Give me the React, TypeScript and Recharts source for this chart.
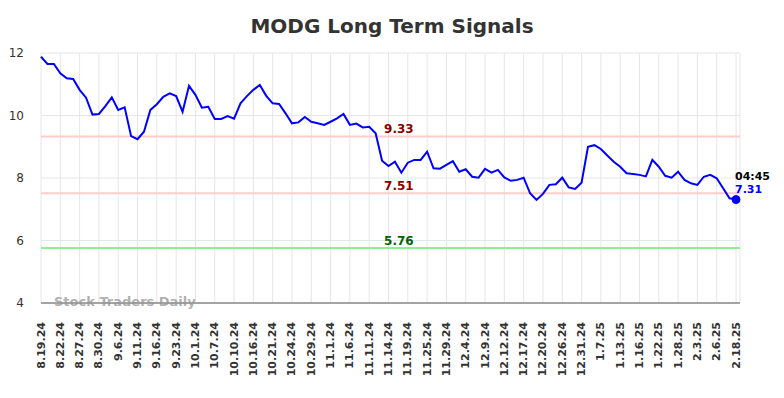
import React from 'react';
import { LineChart, Line, XAxis, YAxis, CartesianGrid, ReferenceLine, ReferenceDot } from 'recharts';

const tickLabels: string[] = [
  '8.19.24', '8.22.24', '8.27.24', '8.30.24', '9.6.24', '9.11.24', '9.16.24', '9.23.24', '10.1.24', '10.7.24',
  '10.10.24', '10.16.24', '10.21.24', '10.24.24', '10.29.24', '11.1.24', '11.6.24', '11.11.24', '11.14.24',
  '11.19.24', '11.25.24', '11.29.24', '12.4.24', '12.9.24', '12.12.24', '12.17.24', '12.20.24', '12.26.24',
  '12.31.24', '1.7.25', '1.13.25', '1.16.25', '1.22.25', '1.28.25', '2.3.25', '2.6.25', '2.18.25',
];

const prices: number[] = [
  11.88, 11.65, 11.65, 11.35, 11.19, 11.17, 10.82, 10.57, 10.03, 10.05,
  10.3, 10.58, 10.18, 10.26, 9.34, 9.24, 9.48, 10.18, 10.36, 10.6,
  10.71, 10.62, 10.12, 10.95, 10.66, 10.25, 10.28, 9.89, 9.89, 9.98,
  9.9, 10.39, 10.62, 10.82, 10.98, 10.63, 10.39, 10.37, 10.07, 9.75,
  9.78, 9.95, 9.8, 9.75, 9.7, 9.8, 9.91, 10.05, 9.7, 9.74,
  9.62, 9.64, 9.43, 8.55, 8.38, 8.52, 8.17, 8.49, 8.58, 8.58,
  8.84, 8.31, 8.3, 8.42, 8.54, 8.2, 8.28, 8.04, 8.01, 8.29,
  8.17, 8.26, 8.02, 7.91, 7.94, 8.01, 7.51, 7.3, 7.49, 7.78,
  7.8, 8.01, 7.7, 7.65, 7.85, 9.0, 9.05, 8.93, 8.72, 8.52,
  8.36, 8.15, 8.13, 8.1, 8.05, 8.58, 8.36, 8.07, 8.01, 8.2,
  7.94, 7.83, 7.78, 8.04, 8.1, 7.99, 7.67, 7.35, 7.31,
];

const tickStep = 3;
const yTicks: number[] = [4, 6, 8, 10, 12];
const signalHigh = 9.33;
const signalMid = 7.51;
const signalLow = 5.76;
const lastTime = '04:45';

const data = prices.map((v, i) => ({ i, v }));
const xTicks = tickLabels.map((_, k) => k * tickStep);
const lastIdx = prices.length - 1;
const lastVal = prices[lastIdx];

const FONT = '"DejaVu Sans", sans-serif';

const XTick = (props: any) => {
  const { x, y, payload } = props;
  const ay = y + 11;
  return (
    <text
      x={x}
      y={ay}
      transform={`rotate(-90 ${x} ${ay})`}
      textAnchor="end"
      dominantBaseline="central"
      fontFamily={FONT}
      fontSize={11}
      fontWeight="bold"
      fill="#333"
    >
      {tickLabels[Math.round(payload.value / tickStep)]}
    </text>
  );
};

const refLabel = (text: string, color: string) => (p: any) => {
  const vb = p.viewBox || {};
  return (
    <text
      x={vb.x + vb.width * 0.512}
      y={vb.y - 7}
      textAnchor="middle"
      dominantBaseline="central"
      fontFamily={FONT}
      fontSize={12}
      fontWeight="bold"
      fill={color}
    >
      {text}
    </text>
  );
};

const lastLabel = (p: any) => {
  const vb = p.viewBox || {};
  const cx = vb.x + (vb.width || 0) / 2;
  const cy = vb.y + (vb.height || 0) / 2;
  return (
    <g fontFamily={FONT} fontWeight="bold" fontSize={11}>
      <text x={cx - 1} y={cy - 23} dominantBaseline="central" fill="#000">{lastTime}</text>
      <text x={cx - 1} y={cy - 10} dominantBaseline="central" fill="#0000ff">{lastVal.toFixed(2)}</text>
    </g>
  );
};

export default function App() {
  return (
    <div style={{ position: 'absolute', left: 0, top: 0, width: 784, height: 398, background: '#fff' }}>
      <div
        style={{
          position: 'absolute',
          left: 0,
          top: 13,
          width: 784,
          textAlign: 'center',
          fontFamily: FONT,
          fontWeight: 'bold',
          fontSize: 20,
          color: '#333',
          lineHeight: '26px',
        }}
      >
        MODG Long Term Signals
      </div>
      <LineChart
        width={784}
        height={398}
        data={data}
        margin={{ top: 53, right: 44, bottom: 0, left: 0 }}
      >
        <CartesianGrid stroke="#e6e6e6" strokeWidth={1} vertical={true} horizontal={true} />
        <XAxis
          dataKey="i"
          type="number"
          domain={[0, lastIdx]}
          ticks={xTicks}
          interval={0}
          padding={{ left: 0, right: 4 }}
          tick={<XTick />}
          tickLine={false}
          axisLine={{ stroke: '#555', strokeWidth: 1 }}
          height={95}
        />
        <YAxis
          type="number"
          domain={[4, 12]}
          ticks={yTicks}
          interval={0}
          width={41}
          tickLine={false}
          axisLine={false}
          tickMargin={11}
          tick={{ fontFamily: FONT, fontSize: 12, fill: '#333' }}
        />
        <ReferenceLine y={signalHigh} stroke="#ffcccc" strokeWidth={2} label={refLabel(signalHigh.toFixed(2), '#8b0000')} />
        <ReferenceLine y={signalMid} stroke="#ffcccc" strokeWidth={2} label={refLabel(signalMid.toFixed(2), '#8b0000')} />
        <ReferenceLine y={signalLow} stroke="#90ee90" strokeWidth={2} label={refLabel(signalLow.toFixed(2), '#006400')} />
        <Line
          type="linear"
          dataKey="v"
          stroke="#0000ff"
          strokeWidth={2}
          dot={false}
          isAnimationActive={false}
        />
        <ReferenceDot x={lastIdx} y={lastVal} r={4} fill="#0000ff" stroke="#0000ff" label={lastLabel} />
      </LineChart>
      <div
        style={{
          position: 'absolute',
          left: 54,
          top: 294,
          fontFamily: FONT,
          fontWeight: 'bold',
          fontSize: 13,
          color: 'rgba(150,150,150,0.75)',
          lineHeight: '16px',
          whiteSpace: 'nowrap',
        }}
      >
        Stock Traders Daily
      </div>
    </div>
  );
}
